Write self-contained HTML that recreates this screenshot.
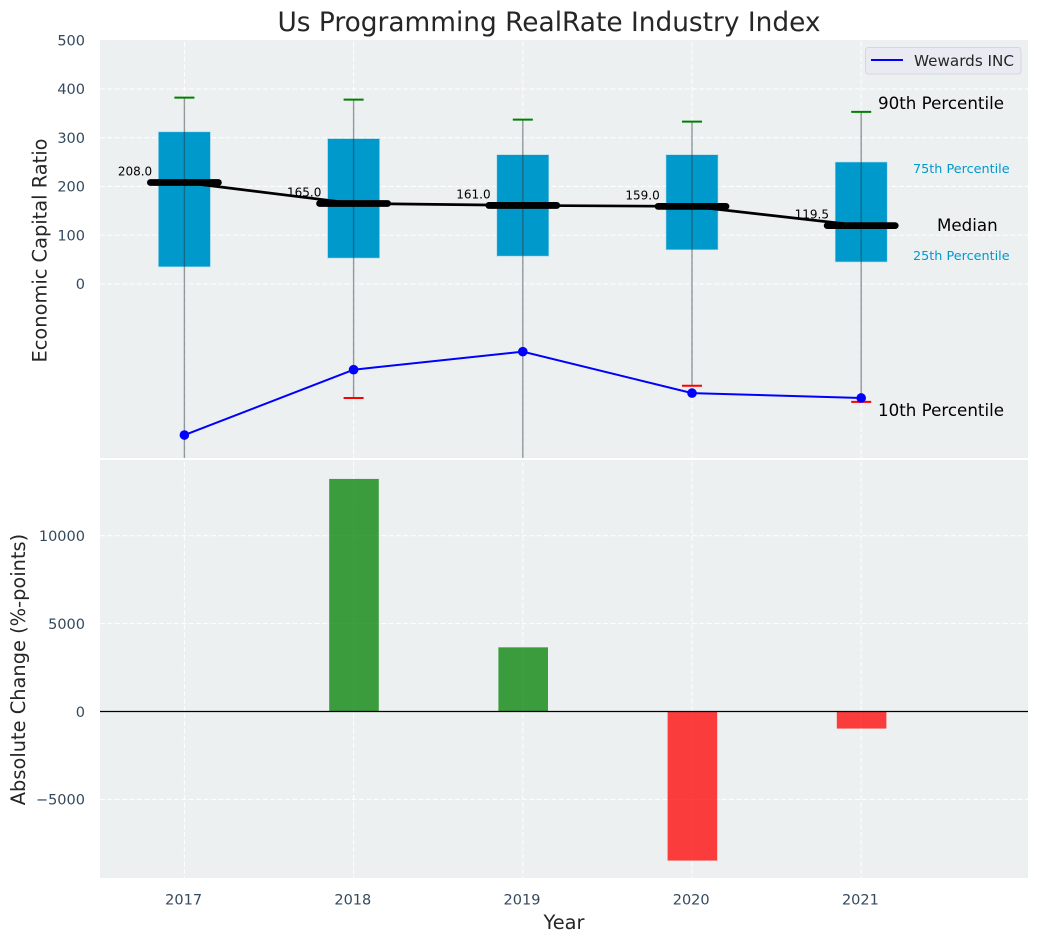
<!DOCTYPE html>
<html>
<head>
<meta charset="utf-8">
<style>
html,body{margin:0;padding:0;background:#fff;}
svg{display:block;font-family:"DejaVu Sans","Liberation Sans",sans-serif;}
</style>
</head>
<body>
<svg id="chart" width="1039" height="942" viewBox="0 0 1039 942" xmlns="http://www.w3.org/2000/svg">
<defs>
<clipPath id="clip-top"><rect x="100" y="40" width="928" height="418"/></clipPath>
<clipPath id="clip-bottom"><rect x="100" y="460" width="928" height="418"/></clipPath>
</defs>
</svg>
<script>
const years = [2017, 2018, 2019, 2020, 2021];
const p10 = [-420, -234, -420, -209, -242];
const p25 = [35, 53, 57, 70, 45];
const median = [208, 165, 161, 159, 119.5];
const p75 = [312, 298, 265, 265, 250];
const p90 = [382, 378, 337, 333, 353];
const wewards = [-310, -176, -139, -224, -234];
const changes = [0, 13230, 3650, -8480, -970];
const topTicks = [0, 100, 200, 300, 400, 500];
const bottomTicks = [-5000, 0, 5000, 10000];

const NS = 'http://www.w3.org/2000/svg';
const svg = document.getElementById('chart');
function x(v){ return 184.4 + (v - 2017) * 169.2; }
function yTop(v){ return 283.9 - v * 0.4875; }
function yBot(v){ return 711.5 - v * 0.01758; }
function mk(tag, attrs, text, parent){
  const el = document.createElementNS(NS, tag);
  for (const k in attrs) el.setAttribute(k, attrs[k]);
  if (text !== undefined && text !== null) el.textContent = text;
  (parent || svg).appendChild(el);
  return el;
}
const TICK = '#34495e';
const BLUEBOX = '#0099cc';

/* axes backgrounds */
let bg = mk('rect', {x:100, y:40, width:928, height:418, fill:'#ecf0f1'});


bg = mk('rect', {x:100, y:460, width:928, height:418, fill:'#ecf0f1'});



const gTop = mk('g', {'clip-path':'url(#clip-top)'});


const gBot = mk('g', {'clip-path':'url(#clip-bottom)'});



const GRID = {stroke:'#ffffff', 'stroke-width':1.1, 'stroke-opacity':0.9, 'stroke-dasharray':'5 2.4', fill:'none'};

/* gridlines: the topmost tick sits on the axes edge and shows no line */
topTicks.filter(function(t){ return yTop(t) > 42; }).forEach(function(t){
  const g = mk('line', Object.assign({x1:100, x2:1028, y1:yTop(t), y2:yTop(t)}, GRID), null, gTop);
  
  
});
bottomTicks.forEach(function(t){
  const g = mk('line', Object.assign({x1:100, x2:1028, y1:yBot(t), y2:yBot(t)}, GRID), null, gBot);
  
  
});
years.forEach(function(t){
  let g = mk('line', Object.assign({x1:x(t), x2:x(t), y1:42, y2:458}, GRID), null, gTop);
  
  
  g = mk('line', Object.assign({x1:x(t), x2:x(t), y1:462, y2:878}, GRID), null, gBot);
  
  
});

/* boxes */
years.forEach(function(t, i){
  const box = mk('rect', {x:x(t)-26, y:yTop(p75[i]), width:52, height:yTop(p25[i])-yTop(p75[i]), fill:BLUEBOX, stroke:'#a9d9ea', 'stroke-width':0.6}, null, gTop);
  
  
});
/* whiskers */
years.forEach(function(t, i){
  const w = mk('line', {x1:x(t), x2:x(t), y1:yTop(p90[i]), y2:yTop(p10[i]), stroke:'#2c3a3f', 'stroke-opacity':0.5, 'stroke-width':1.4}, null, gTop);
  
  
  const c1 = mk('line', {x1:x(t)-10, x2:x(t)+10, y1:yTop(p90[i]), y2:yTop(p90[i]), stroke:'#008000', 'stroke-width':2}, null, gTop);
  
  
  const c2 = mk('line', {x1:x(t)-10, x2:x(t)+10, y1:yTop(p10[i]), y2:yTop(p10[i]), stroke:'#ff0000', 'stroke-width':2}, null, gTop);
  
  
});
/* median connector */
const medLine = mk('polyline', {points:years.map(function(t,i){return x(t)+','+yTop(median[i]);}).join(' '), fill:'none', stroke:'#000', 'stroke-width':2.7, 'stroke-linejoin':'round'}, null, gTop);


/* median bars and value labels */
years.forEach(function(t, i){
  const m = mk('line', {x1:x(t)-34, x2:x(t)+34, y1:yTop(median[i]), y2:yTop(median[i]), stroke:'#000', 'stroke-width':6.8, 'stroke-linecap':'round'}, null, gTop);
  
  
  const l = mk('text', {x:x(t)-49.4, y:yTop(median[i])-7, 'text-anchor':'middle', 'font-size':12, fill:'#000'}, median[i].toFixed(1), gTop);
  
  
});
/* series */
const sLine = mk('polyline', {points:years.map(function(t,i){return x(t)+','+yTop(wewards[i]);}).join(' '), fill:'none', stroke:'#0000ff', 'stroke-width':2}, null, gTop);


years.forEach(function(t, i){
  const p = mk('circle', {cx:x(t), cy:yTop(wewards[i]), r:4.8, fill:'#0000ff'}, null, gTop);
  
  
});

/* bars */
years.forEach(function(t, i){
  if (!changes[i]) return;
  const y0 = yBot(Math.max(changes[i], 0));
  const y1 = yBot(Math.min(changes[i], 0));
  const b = mk('rect', {x:x(t)-24.4, y:y0, width:49.6, height:y1-y0, fill:changes[i] > 0 ? '#008000' : '#ff0000', 'fill-opacity':0.75}, null, gBot);
  
  
});
const zero = mk('line', {x1:100, x2:1028, y1:yBot(0), y2:yBot(0), stroke:'#000', 'stroke-width':1.3}, null, gBot);



/* tick labels */
topTicks.forEach(function(t){
  const l = mk('text', {x:85, y:yTop(t)+5.3, 'text-anchor':'end', 'font-size':14.5, fill:TICK}, String(t));
  
  
});
bottomTicks.forEach(function(t){
  const l = mk('text', {x:85, y:yBot(t)+5.3, 'text-anchor':'end', 'font-size':14.5, fill:TICK}, String(t).replace('-', '\u2212'));
  
  
});
years.forEach(function(t){
  const l = mk('text', {x:x(t)-0.8, y:904.5, 'text-anchor':'middle', 'font-size':14.5, fill:TICK}, String(t));
  
  
});

/* titles */
const title = mk('text', {x:549, y:31, 'text-anchor':'middle', 'font-size':26.4, fill:'#262626'}, 'Us Programming RealRate Industry Index');


const xt = mk('text', {x:564, y:929, 'text-anchor':'middle', 'font-size':19.4, fill:'#262626'}, 'Year');


const yt1 = mk('text', {x:0, y:0, transform:'translate(46.5,250.5) rotate(-90)', 'text-anchor':'middle', 'font-size':19.4, fill:'#262626'}, 'Economic Capital Ratio');


const yt2 = mk('text', {x:0, y:0, transform:'translate(25,669.5) rotate(-90)', 'text-anchor':'middle', 'font-size':19.4, fill:'#262626'}, 'Absolute Change (%-points)');



/* percentile annotations */
let a = mk('text', {x:878, y:109, 'font-size':16.7, fill:'#000'}, '90th Percentile');


a = mk('text', {x:913, y:173, 'font-size':12.8, fill:BLUEBOX}, '75th Percentile');


a = mk('text', {x:937, y:231, 'font-size':16.7, fill:'#000'}, 'Median');


a = mk('text', {x:913, y:260, 'font-size':12.8, fill:BLUEBOX}, '25th Percentile');


a = mk('text', {x:878, y:416, 'font-size':16.7, fill:'#000'}, '10th Percentile');



/* legend */
const lg = mk('g', {});


const lb = mk('rect', {x:865.5, y:47.5, width:155.5, height:26.5, rx:3, fill:'#eaeaf2', stroke:'#d6d6de', 'stroke-width':1}, null, lg);


const ll = mk('line', {x1:871, x2:903, y1:60, y2:60, stroke:'#0000ff', 'stroke-width':2}, null, lg);


const lt = mk('text', {x:914, y:66, 'font-size':15.2, fill:'#262626'}, 'Wewards INC', lg);


</script>
</body>
</html>
